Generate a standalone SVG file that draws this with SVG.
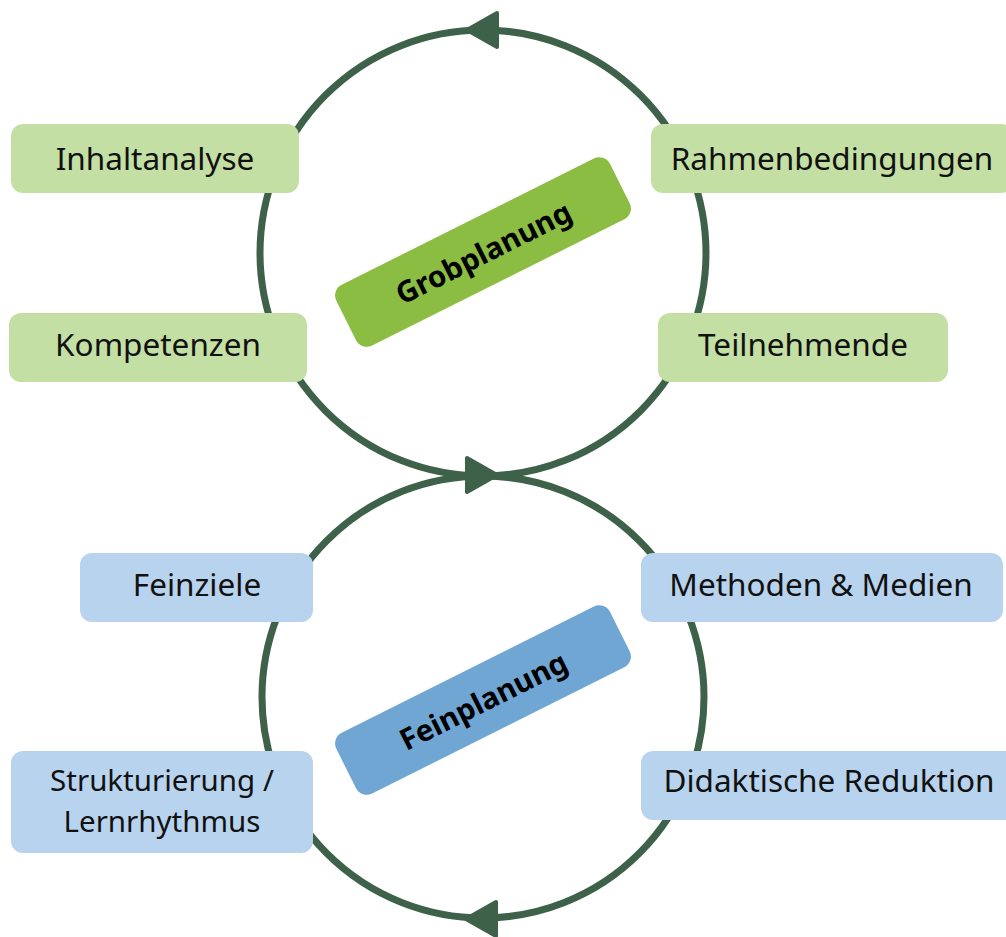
<svg xmlns="http://www.w3.org/2000/svg" width="1006" height="937" viewBox="0 0 1006 937">
<style>
.ring{fill:none;stroke:#3e614a;stroke-width:7}
.ah{fill:#3e614a;stroke:#3e614a;stroke-width:4;stroke-linejoin:round}
.g{fill:#c4dfa4}
.b{fill:#b8d3ee}
.t{font-family:"Noto Sans","Open Sans",sans-serif;font-size:31.5px;fill:#111;text-anchor:middle;dominant-baseline:central}
.s{font-size:29.5px}
.h{font-family:"Noto Sans","Open Sans",sans-serif;font-size:29.5px;font-weight:bold;fill:#000;text-anchor:middle;dominant-baseline:central}
</style>
<defs>
<polygon id="arrow" points="0,0 30,-17 30,17"/>
</defs>
<g id="connectors">
<circle class="ring" cx="483" cy="253" r="223"/>
<circle class="ring" cx="483" cy="697" r="221"/>
<use href="#arrow" class="ah" transform="translate(467,30)"/>
<use href="#arrow" class="ah" transform="translate(497,475) rotate(180)"/>
<use href="#arrow" class="ah" transform="translate(466,919)"/>
</g>
<g id="grobplanung">
<g transform="translate(483,252) rotate(-26.6)">
<rect x="-153" y="-34" width="306" height="68" rx="12" fill="#8abd42"/>
<text class="h" x="0" y="0">Grobplanung</text>
</g>
</g>
<g id="feinplanung">
<g transform="translate(483,700) rotate(-26.6)">
<rect x="-153" y="-34" width="306" height="68" rx="12" fill="#6fa6d4"/>
<text class="h" x="0" y="0">Feinplanung</text>
</g>
</g>
<g id="inhaltanalyse"><rect class="g" x="11" y="124" width="288" height="69" rx="12"/><text class="t" x="155" y="157">Inhaltanalyse</text></g>
<g id="rahmenbedingungen"><rect class="g" x="651" y="124" width="362" height="69" rx="12"/><text class="t" x="832" y="157">Rahmenbedingungen</text></g>
<g id="kompetenzen"><rect class="g" x="9" y="313" width="298" height="69" rx="12"/><text class="t" x="158" y="343">Kompetenzen</text></g>
<g id="teilnehmende"><rect class="g" x="658" y="313" width="290" height="69" rx="12"/><text class="t" x="803" y="343">Teilnehmende</text></g>
<g id="feinziele"><rect class="b" x="80" y="553" width="233" height="69" rx="12"/><text class="t" x="197" y="583">Feinziele</text></g>
<g id="methoden"><rect class="b" x="641" y="553" width="362" height="69" rx="12"/><text class="t" x="821" y="583">Methoden &amp; Medien</text></g>
<g id="strukturierung"><rect class="b" x="11" y="751" width="302" height="102" rx="12"/><text class="t s" x="162" y="779">Strukturierung /</text><text class="t s" x="162" y="820">Lernrhythmus</text></g>
<g id="reduktion"><rect class="b" x="641" y="751" width="376" height="69" rx="12"/><text class="t" x="829" y="779">Didaktische Reduktion</text></g>
</svg>
